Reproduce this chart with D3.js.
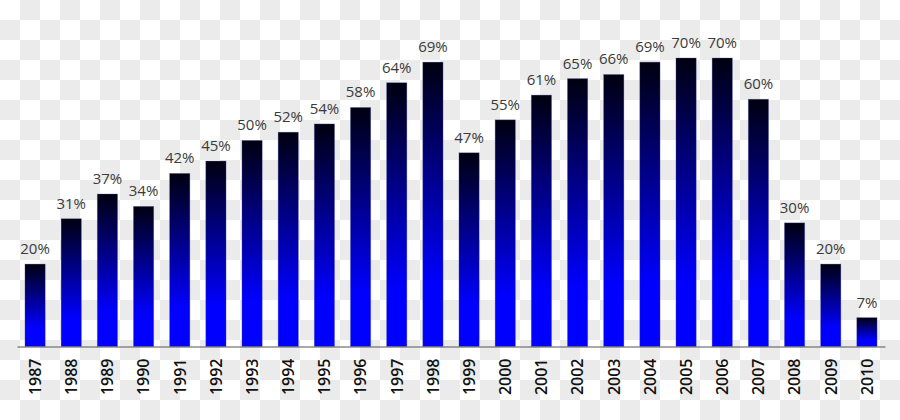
<!DOCTYPE html>
<html>
<head>
<meta charset="utf-8">
<script src="https://cdn.jsdelivr.net/npm/d3@7"></script>
<style>
  html, body { margin: 0; padding: 0; background: #fff; }
  svg { display: block; }
</style>
</head>
<body>
<svg id="chart" width="900" height="420"></svg>
<script>
const years = ["1987","1988","1989","1990","1991","1992","1993","1994","1995","1996","1997","1998",
               "1999","2000","2001","2002","2003","2004","2005","2006","2007","2008","2009","2010"];
const values = [20,31,37,34,42,45,50,52,54,58,64,69,47,55,61,65,66,69,70,70,60,30,20,7];
const valueLabels = values.map(v => v + "%");

const W = 900, H = 420;
const svg = d3.select("#chart");
const defs = svg.append("defs");

// checkerboard background
const pat = defs.append("pattern").attr("id", "checker")
  .attr("width", 40).attr("height", 40).attr("patternUnits", "userSpaceOnUse");
pat.append("rect").attr("width", 40).attr("height", 40).attr("fill", "#ffffff");
pat.append("rect").attr("x", 20).attr("y", 0).attr("width", 20).attr("height", 20).attr("fill", "#ebebeb");
pat.append("rect").attr("x", 0).attr("y", 20).attr("width", 20).attr("height", 20).attr("fill", "#ebebeb");
svg.append("rect").attr("width", W).attr("height", H).attr("fill", "url(#checker)");

// bar gradient
const grad = defs.append("linearGradient").attr("id", "barGrad")
  .attr("x1", 0).attr("y1", 0).attr("x2", 0).attr("y2", 1);
grad.append("stop").attr("offset", "0").attr("stop-color", "#000010");
grad.append("stop").attr("offset", "0.78").attr("stop-color", "#0000ff");
grad.append("stop").attr("offset", "1").attr("stop-color", "#0000ff");

const x = d3.scaleBand().domain(years).range([17, 885]).paddingInner(0.44).paddingOuter(0.22);
const y = d3.scaleLinear().domain([0, 70]).range([346.5, 58]);

svg.append("g").selectAll("rect").data(years).join("rect")
  .attr("x", d => x(d))
  .attr("y", (d, i) => y(values[i]))
  .attr("width", x.bandwidth())
  .attr("height", (d, i) => y(0) - y(values[i]))
  .attr("fill", "url(#barGrad)")
  .attr("stroke", "rgba(90,90,170,0.45)")
  .attr("stroke-width", 0.7);

svg.append("g").selectAll("text").data(years).join("text")
  .attr("x", d => x(d) + x.bandwidth() / 2)
  .attr("y", (d, i) => y(values[i]) - 10)
  .attr("text-anchor", "middle")
  .attr("font-family", "'Open Sans', sans-serif")
  .attr("font-size", 15)
  .attr("fill", "#3a3a3a")
  .text((d, i) => valueLabels[i]);

const axis = d3.axisBottom(x).tickSize(0).tickSizeOuter(0);
const ag = svg.append("g").attr("transform", `translate(0,${y(0)})`).call(axis);
ag.select(".domain").attr("stroke", "#555").attr("stroke-width", 1.2);
ag.selectAll("text")
  .attr("transform", "rotate(-90)")
  .attr("x", -12).attr("y", 0).attr("dy", "0.36em")
  .attr("text-anchor", "end")
  .attr("font-family", "'Open Sans', sans-serif")
  .attr("font-weight", 600)
  .attr("font-size", 16)
  .attr("fill", "#111");
</script>
</body>
</html>
